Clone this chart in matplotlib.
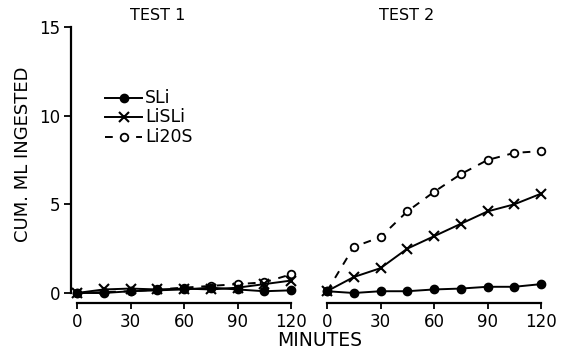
import numpy as np
import matplotlib
matplotlib.use("Agg")
import matplotlib.pyplot as plt
from matplotlib.lines import Line2D

# ── Data ──────────────────────────────────────────────────────────────────────
minutes = [0, 15, 30, 45, 60, 75, 90, 105, 120]

test1_sli   = [0.0, 0.0, 0.1, 0.15, 0.2, 0.3, 0.2, 0.1, 0.15]
test1_lisli = [0.0, 0.2, 0.25, 0.2, 0.25, 0.2, 0.3, 0.5, 0.7]
test1_li20s = [0.0, 0.05, 0.1, 0.2, 0.3, 0.4, 0.5, 0.6, 1.05]

test2_sli   = [0.1, 0.0, 0.1, 0.1, 0.2, 0.25, 0.35, 0.35, 0.5]
test2_lisli = [0.1, 0.9, 1.4, 2.5, 3.2, 3.9, 4.6, 5.0, 5.6]
test2_li20s = [0.1, 2.6, 3.15, 4.6, 5.7, 6.7, 7.5, 7.9, 8.0]

x_ticks = [0, 30, 60, 90, 120]
y_ticks = [0, 5, 10, 15]
series_names = ["SLi", "LiSLi", "Li20S"]

# ── Style ─────────────────────────────────────────────────────────────────────
plt.rcParams["font.family"] = ["DejaVu Sans"]
INK = "black"
LW = 1.4
TICK_FS = 12
DASH = (0, (4, 4))

W, H = 565, 358
fig = plt.figure(figsize=(W / 100, H / 100), dpi=100)

Y0_PX, Y15_PX, AXIS_PX = 293, 27, 303
px_per_unit = (Y0_PX - Y15_PX) / 15.0
y_bottom = -(AXIS_PX - Y0_PX) / px_per_unit


def fx(px):
    return px / W


def fy(px):
    return 1 - px / H


ax1 = fig.add_axes([fx(71), fy(AXIS_PX), fx(291 - 71), fy(Y15_PX) - fy(AXIS_PX)])
ax2 = fig.add_axes([fx(327), fy(AXIS_PX), fx(541 - 327), fy(Y15_PX) - fy(AXIS_PX)])

lead = 6 / (214 / 120)   # gap between y spine and x=0

STYLES = {
    "SLi":   dict(color=INK, lw=LW, marker="o", ms=6, mfc=INK, mec=INK),
    "LiSLi": dict(color=INK, lw=LW, marker="x", ms=7, mew=1.5),
    "Li20S": dict(color=INK, lw=LW, ls=DASH, marker="o", ms=5.5,
                  mfc="white", mec=INK, mew=1.3),
}


def draw(ax, sli, lisli, li20s):
    ax.plot(minutes, li20s, clip_on=False, **STYLES["Li20S"])
    ax.plot(minutes, lisli, clip_on=False, **STYLES["LiSLi"])
    ax.plot(minutes, sli, clip_on=False, **STYLES["SLi"])
    ax.set_ylim(y_bottom, 15)
    ax.set_xticks(x_ticks)
    ax.set_xticklabels([str(t) for t in x_ticks], fontsize=TICK_FS)
    ax.spines["top"].set_visible(False)
    ax.spines["right"].set_visible(False)
    ax.spines["bottom"].set_bounds(0, 120)
    ax.spines["bottom"].set_linewidth(1.6)
    ax.tick_params(axis="x", direction="out", length=4, width=1.3, pad=3)
    ax.patch.set_alpha(0)


draw(ax1, test1_sli, test1_lisli, test1_li20s)
ax1.set_xlim(-lead, 120)
ax1.set_yticks(y_ticks)
ax1.set_yticklabels([str(t) for t in y_ticks], fontsize=TICK_FS)
ax1.spines["left"].set_bounds(0, 15)
ax1.spines["left"].set_linewidth(1.6)
ax1.tick_params(axis="y", direction="out", length=5, width=1.3, pad=3)

draw(ax2, test2_sli, test2_lisli, test2_li20s)
ax2.set_xlim(0, 120)
ax2.spines["left"].set_visible(False)
ax2.set_yticks([])

# ── Texts ─────────────────────────────────────────────────────────────────────
fig.text(fx(158), fy(16), "TEST 1", fontsize=11.5, ha="center", va="center")
fig.text(fx(407), fy(16), "TEST 2", fontsize=11.5, ha="center", va="center")
fig.text(fx(320), fy(340), "MINUTES", fontsize=13.5, ha="center", va="center")
fig.text(fx(23), fy(154), "CUM. ML INGESTED", fontsize=13, rotation=90,
         ha="center", va="center")

# ── Hand-placed legend ────────────────────────────────────────────────────────
row_y = [98, 117, 137]
for name, ry in zip(series_names, row_y):
    st = dict(STYLES[name])
    marker_kw = {k: st.pop(k) for k in ["marker", "ms", "mfc", "mec", "mew"] if k in st}
    fig.add_artist(Line2D([fx(105), fx(142)], [fy(ry), fy(ry)],
                          transform=fig.transFigure, **st))
    fig.add_artist(Line2D([fx(124)], [fy(ry)], transform=fig.transFigure,
                          color=INK, ls="none", **marker_kw))
    fig.text(fx(145), fy(ry), name, fontsize=12.5, ha="left", va="center")

fig.savefig("out.png", dpi=100)
